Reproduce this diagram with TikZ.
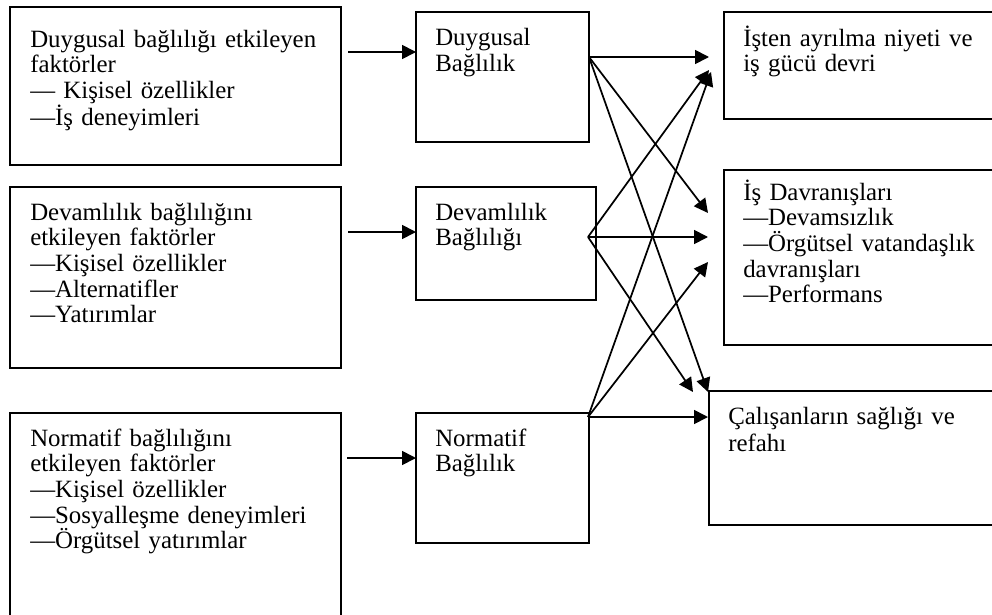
\documentclass[tikz,border=0pt]{standalone}
\usepackage{fontspec}
\setmainfont{Liberation Serif}
\usetikzlibrary{arrows.meta,calc}
\begin{document}
\begin{tikzpicture}[x=0.75pt,y=-0.75pt,
  box/.style={draw,line width=1.5pt,inner sep=0pt,outer sep=0pt,anchor=north west},
  txt/.style={anchor=base west,inner sep=0pt,text width=240pt,align=left,
    font=\fontsize{18.65pt}{19.3pt}\selectfont},
  arr/.style={line width=1.3pt,-{Triangle[length=10.5pt,width=10.5pt]}}]
\useasboundingbox (0,0) rectangle (992,614);
\clip (0,0) rectangle (992,614);
\fill[white] (0,0) rectangle (992,614);

% antecedent boxes
\node[box,minimum width=248.25pt,minimum height=118.5pt] (l1) at (10,7) {};
\node[box,minimum width=248.25pt,minimum height=135.75pt] (l2) at (10,187) {};
\node[box,minimum width=248.25pt,minimum height=172.5pt] (l3) at (10,413) {};

% commitment boxes
\node[box,minimum width=129.75pt,minimum height=97.5pt] (m1) at (416,12) {};
\node[box,minimum width=135pt,minimum height=84.75pt] (m2) at (416,187) {};
\node[box,minimum width=129.75pt,minimum height=97.5pt] (m3) at (416,413) {};

% outcome boxes
\node[box,minimum width=225pt,minimum height=80.25pt] (r1) at (724,12) {};
\node[box,minimum width=225pt,minimum height=131.25pt] (r2) at (724,170) {};
\node[box,minimum width=236.25pt,minimum height=100.5pt] (r3) at (709,391) {};

% texts
\node[txt] (tl1) at (30,47) {Duygusal bağlılığı etkileyen\\faktörler\\— Kişisel özellikler\\—İş deneyimleri};
\node[txt] (tl2) at (30,220) {Devamlılık bağlılığını\\etkileyen faktörler\\—Kişisel özellikler\\—Alternatifler\\—Yatırımlar};
\node[txt] (tl3) at (30,446) {Normatif bağlılığını\\etkileyen faktörler\\—Kişisel özellikler\\—Sosyalleşme deneyimleri\\—Örgütsel yatırımlar};
\node[txt] (tm1) at (435,45) {Duygusal\\[0.8pt]Bağlılık};
\node[txt] (tm2) at (435,220) {Devamlılık\\Bağlılığı};
\node[txt] (tm3) at (435,446) {Normatif\\Bağlılık};
\node[txt] (tr1) at (743,46) {İşten ayrılma niyeti ve\\iş gücü devri};
\node[txt] (tr2) at (743,200) {İş Davranışları\\—Devamsızlık\\—Örgütsel vatandaşlık\\davranışları\\—Performans};
\node[txt] (tr3) at (728,424) {Çalışanların sağlığı ve\\[1pt]refahı};

% antecedents to commitment
\draw[arr] ($(l1.north east)+(7,45)$) -- ($(m1.north west)+(0,40)$);
\draw[arr] ($(l2.north east)+(7,45)$) -- ($(m2.north west)+(0,45)$);
\draw[arr] ($(l3.north east)+(6,45)$) -- ($(m3.north west)+(0,45)$);

% commitment to outcomes
\coordinate (o1) at ($(m1.north east)+(0,45)$);
\coordinate (o2) at ($(m2.north east)+(-8,50)$);
\coordinate (o3) at ($(m3.north east)+(-1,4)$);

\draw[arr] (o1) -- ($(r1.north west)+(-15,45)$);
\draw[arr] (o1) -- ($(r2.north west)+(-16,43)$);
\draw[arr] (o1) -- ($(r3.north west)+(-1,1)$);

\draw[arr] (o2) -- ($(r1.north west)+(-15,58)$);
\draw[arr] (o2) -- ($(r2.north west)+(-16,67)$);
\draw[arr] (o2) -- ($(r3.north west)+(-16,1)$);

\draw[arr] (o3) -- ($(r1.north west)+(-13,60)$);
\draw[arr] (o3) -- ($(r2.north west)+(-16,92)$);
\draw[arr] (o3) -- ($(r3.north west)+(-1,26)$);
\end{tikzpicture}
\end{document}
